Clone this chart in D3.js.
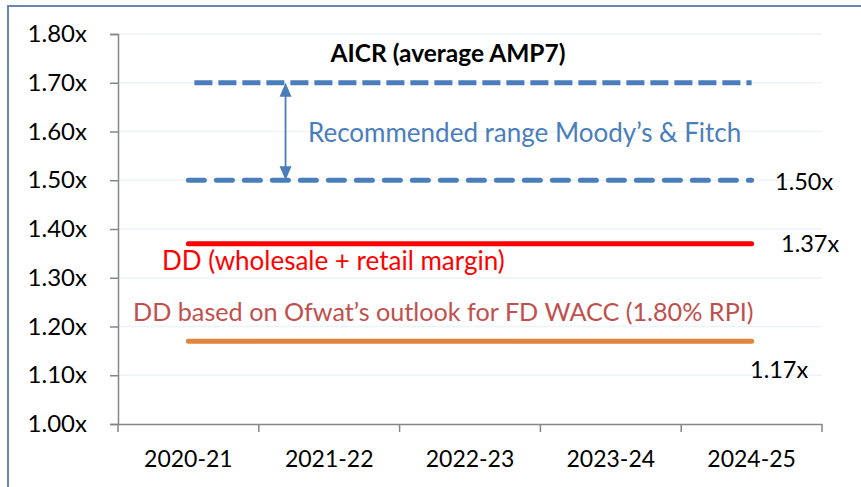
<!DOCTYPE html>
<html>
<head>
<meta charset="utf-8">
<script src="https://cdn.jsdelivr.net/npm/d3@7"></script>
<style>
  body { margin: 0; background: #fff; }
  text { font-family: Lato, "Open Sans", sans-serif; }
</style>
</head>
<body>
<div id="chart"></div>
<script>
// Data
const categories = ["2020-21", "2021-22", "2022-23", "2023-24", "2024-25"];
const rangeHigh = [1.70, 1.70, 1.70, 1.70, 1.70];
const rangeLow = [1.50, 1.50, 1.50, 1.50, 1.50];
const ddWholesale = [1.37, 1.37, 1.37, 1.37, 1.37];
const ddOfwat = [1.17, 1.17, 1.17, 1.17, 1.17];
const yTicks = [1.00, 1.10, 1.20, 1.30, 1.40, 1.50, 1.60, 1.70, 1.80];

const svgWidth = 861;
const svgHeight = 487;
const margin = { left: 118, right: 39, top: 34, bottom: 63 };

const svg = d3.select("#chart")
              .append("svg")
              .attr("width", svgWidth)
              .attr("height", svgHeight);

// outer frame (runs off the right and bottom edge like the source)
svg.append("rect")
   .attr("x", 8).attr("y", 6)
   .attr("width", svgWidth + 20).attr("height", svgHeight + 20)
   .attr("fill", "none")
   .attr("stroke", "#6a85b2")
   .attr("stroke-width", 2);

// **Scales
const xScale = d3.scaleBand()
                 .domain(categories)
                 .range([margin.left, svgWidth - margin.right])
                 .padding(0);
const yScale = d3.scaleLinear()
                 .domain([1.0, 1.8])
                 .range([svgHeight - margin.bottom, margin.top]);
// index based position, used for the annotation arrow
const xPos = d3.scaleLinear()
               .domain([-0.5, categories.length - 0.5])
               .range([margin.left, svgWidth - margin.right]);
const xMid = (c) => xScale(c) + xScale.bandwidth() / 2;

// **Gridlines
svg.append("g")
   .selectAll("line")
   .data(yTicks.slice(1))
   .enter()
   .append("line")
   .attr("x1", margin.left)
   .attr("x2", svgWidth - margin.right)
   .attr("y1", (d) => yScale(d))
   .attr("y2", (d) => yScale(d))
   .attr("stroke", "#eef3fa")
   .attr("stroke-width", 1.5);

// **Axes
const yAxis = d3.axisLeft(yScale)
                .tickValues(yTicks)
                .tickFormat((d) => d3.format(".2f")(d) + "x")
                .tickSize(8)
                .tickPadding(23);
const gY = svg.append("g")
              .attr("transform", `translate(${margin.left},0)`)
              .call(yAxis);
gY.select(".domain").attr("stroke", "#868686").attr("stroke-width", 1.5);
gY.selectAll(".tick line").attr("stroke", "#868686").attr("stroke-width", 1.5);
gY.selectAll("text").style("font-size", "24px").attr("fill", "#000");

const xAxis = d3.axisBottom(xScale).tickSize(0).tickSizeOuter(0);
const gX = svg.append("g")
              .attr("transform", `translate(0,${svgHeight - margin.bottom})`)
              .call(xAxis);
gX.select(".domain").attr("stroke", "#868686").attr("stroke-width", 1.5);
gX.selectAll("text")
  .style("font-size", "23px")
  .attr("fill", "#000")
  .attr("y", 43)
  .attr("dy", 0);
// tick marks on the band edges
gX.selectAll(".edge")
  .data(d3.range(categories.length + 1))
  .enter()
  .append("line")
  .attr("x1", (i) => xPos(i - 0.5))
  .attr("x2", (i) => xPos(i - 0.5))
  .attr("y1", 0)
  .attr("y2", 8)
  .attr("stroke", "#868686")
  .attr("stroke-width", 1.5);

// **Lines
const line = d3.line()
               .x((d, i) => xMid(categories[i]))
               .y((d) => yScale(d));

svg.append("path")
   .datum(rangeHigh)
   .attr("d", line)
   .attr("fill", "none")
   .attr("stroke", "#4a7ebb")
   .attr("stroke-width", 5)
   .attr("stroke-dasharray", "18,6")
   .attr("stroke-dashoffset", 18);

svg.append("path")
   .datum(rangeLow)
   .attr("d", line)
   .attr("fill", "none")
   .attr("stroke", "#4a7ebb")
   .attr("stroke-width", 5)
   .attr("stroke-linecap", "round")
   .attr("stroke-dasharray", "16,12");

svg.append("path")
   .datum(ddWholesale)
   .attr("d", line)
   .attr("fill", "none")
   .attr("stroke", "#ff0000")
   .attr("stroke-width", 5)
   .attr("stroke-linecap", "round");

svg.append("path")
   .datum(ddOfwat)
   .attr("d", line)
   .attr("fill", "none")
   .attr("stroke", "#e2843d")
   .attr("stroke-width", 5)
   .attr("stroke-linecap", "round");

// **Double arrow between the range limits
const arrowX = xPos(0.69);
svg.append("line")
   .attr("x1", arrowX).attr("x2", arrowX)
   .attr("y1", yScale(1.70) + 12).attr("y2", yScale(1.50) - 12)
   .attr("stroke", "#4a7ebb")
   .attr("stroke-width", 1.8);
svg.append("path")
   .attr("d", `M${arrowX},${yScale(1.70)} l-6,14 l12,0 z M${arrowX},${yScale(1.50)} l-6,-14 l12,0 z`)
   .attr("fill", "#4a7ebb");

// **Annotation texts
const labels = [
  { text: "AICR (average AMP7)", x: 448, y: 62, size: 24.5, weight: "bold", color: "#000", anchor: "middle" },
  { text: "Recommended range Moody\u2019s & Fitch", x: 308, y: 142, size: 26, color: "#4a7ebb", anchor: "start" },
  { text: "1.50x", x: 775, y: 190, size: 23.5, color: "#000", anchor: "start" },
  { text: "1.37x", x: 781, y: 252, size: 23.5, color: "#000", anchor: "start" },
  { text: "DD (wholesale + retail margin)", x: 162, y: 270, size: 26, color: "#ff0000", anchor: "start" },
  { text: "DD based on Ofwat\u2019s outlook for FD WACC (1.80% RPI)", x: 133, y: 321, size: 25.2, color: "#c0504d", anchor: "start" },
  { text: "1.17x", x: 750, y: 378, size: 23.5, color: "#000", anchor: "start" }
];
svg.append("g")
   .selectAll("text")
   .data(labels)
   .enter()
   .append("text")
   .attr("x", (d) => d.x)
   .attr("y", (d) => d.y)
   .attr("text-anchor", (d) => d.anchor)
   .attr("fill", (d) => d.color)
   .style("font-size", (d) => d.size + "px")
   .style("font-weight", (d) => d.weight || "normal")
   .text((d) => d.text);
</script>
</body>
</html>
